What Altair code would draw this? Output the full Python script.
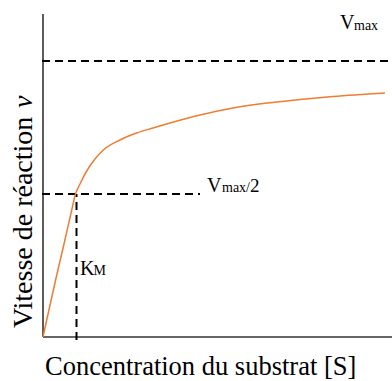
import altair as alt
import pandas as pd

# ---- data ----
S_VALUES = [0, 5.7, 13.3, 21, 28.3, 32.5, 37, 43.7, 52, 60.3, 77, 93.7, 110, 127, 157, 190, 224, 257, 290, 342]
V_VALUES = [0, 26, 60, 93, 125, 143, 153, 166, 178, 187, 197, 204, 209, 214, 222, 229, 234, 237.5, 240.5, 244]
VMAX = 276
VHALF = 143
KM = 33.5
S_MAX = 349
V_TOP = 323
HALF_LINE_END = 157
VMAX_LINE_END = 347

X_TITLE = "Concentration du substrat [S]"
Y_TITLE = "Vitesse de réaction"
Y_VAR = "v"
VMAX_PARTS = ["V", "max"]
VHALF_PARTS = ["V", "max/", "2"]
KM_PARTS = ["K", "M"]

FONT = "'Liberation Serif', 'Times New Roman', Times, serif"
ORANGE = "#ED7D31"

xs = alt.Scale(domain=[0, S_MAX], nice=False, zero=False)
ys = alt.Scale(domain=[0, V_TOP], nice=False, zero=False)


def enc(chart, x2=True):
    e = dict(x=alt.X("x:Q", scale=xs, axis=None), y=alt.Y("y:Q", scale=ys, axis=None))
    if x2:
        e["x2"] = "x2:Q"
        e["y2"] = "y2:Q"
    return chart.encode(**e)


axes_df = pd.DataFrame({"x": [0, 0], "x2": [0, S_MAX], "y": [0, 0], "y2": [V_TOP, 0]})
axes = enc(alt.Chart(axes_df).mark_rule(color="#333333", strokeWidth=1.6))

dash_df = pd.DataFrame({
    "x": [-1, -1, KM],
    "x2": [VMAX_LINE_END, HALF_LINE_END, KM],
    "y": [VMAX, VHALF, -3],
    "y2": [VMAX, VHALF, VHALF],
})
dashes = enc(alt.Chart(dash_df).mark_rule(color="black", strokeWidth=2, strokeDash=[8, 5]))

curve_df = pd.DataFrame({"x": S_VALUES, "y": V_VALUES})
curve = enc(alt.Chart(curve_df).mark_line(color=ORANGE, strokeWidth=1.5, interpolate="monotone"), x2=False)


def label(text, x, y, size, dx, dy, **kw):
    df = pd.DataFrame({"x": [x], "y": [y], "t": [text]})
    m = alt.Chart(df).mark_text(font=FONT, fontSize=size, color="black", align="left",
                                baseline="alphabetic", xOffset=dx, yOffset=dy, **kw)
    return m.encode(x=alt.X("x:Q", scale=xs, axis=None), y=alt.Y("y:Q", scale=ys, axis=None), text="t:N")


texts = [
    label(Y_TITLE, 0, 0, 28, -11, -9, angle=270),
    label(Y_VAR, 0, 0, 28, -11, -229, angle=270, fontStyle="italic"),
    label(X_TITLE, 0, 0, 26.5, 2, 38),
    label(VMAX_PARTS[0], S_MAX, VMAX, 20, -52, -32),
    label(VMAX_PARTS[1], S_MAX, VMAX, 14, -38, -31),
    label(VHALF_PARTS[0], HALF_LINE_END, VHALF, 20, 7, -2),
    label(VHALF_PARTS[1], HALF_LINE_END, VHALF, 14, 22, -2),
    label(VHALF_PARTS[2], HALF_LINE_END, VHALF, 19, 50, -2),
    label(KM_PARTS[0], KM, 0, 20, 3.5, -62),
    label(KM_PARTS[1], KM, 0, 14, 17, -62),
]

chart = alt.layer(axes, dashes, curve, *texts).properties(
    width=349,
    height=323,
    padding={"left": 43, "top": 14, "right": 0, "bottom": 44},
    autosize=alt.AutoSizeParams(type="none"),
    background="white",
).configure_view(stroke=None)

chart.save("out.html", embed_options={"renderer": "svg", "actions": False})
